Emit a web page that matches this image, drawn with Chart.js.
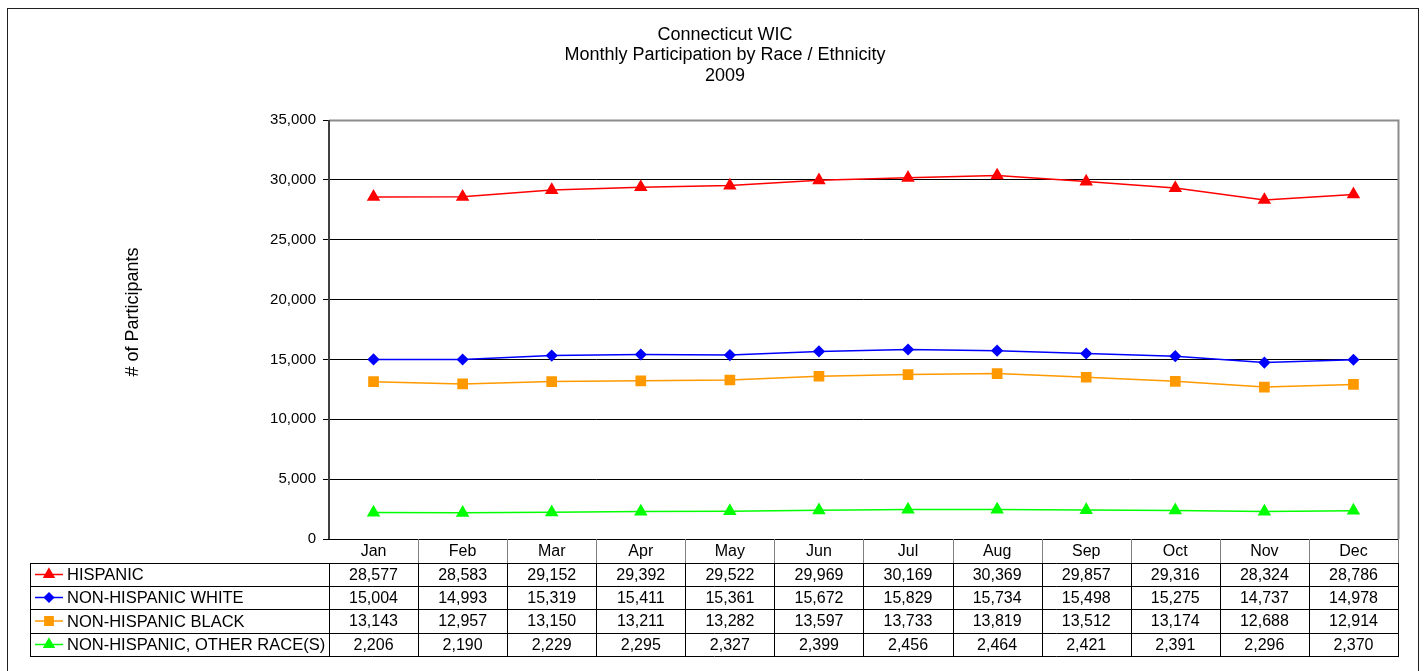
<!DOCTYPE html>
<html lang="en">
<head>
    <meta charset="UTF-8">
    <title>Connecticut WIC 2009</title>
    <script src="https://cdn.jsdelivr.net/npm/chart.js"></script>
    <style>
        body { margin: 0; background: #fff; }
        #wrap { width: 1424px; height: 671px; position: relative; }
    </style>
</head>
<body>
    <div id="wrap"><canvas id="myChart" width="1424" height="671"></canvas></div>

    <script>
        // data
        const months = ['Jan', 'Feb', 'Mar', 'Apr', 'May', 'Jun', 'Jul', 'Aug', 'Sep', 'Oct', 'Nov', 'Dec'];
        const hispanic = [28577, 28583, 29152, 29392, 29522, 29969, 30169, 30369, 29857, 29316, 28324, 28786];
        const nhWhite = [15004, 14993, 15319, 15411, 15361, 15672, 15829, 15734, 15498, 15275, 14737, 14978];
        const nhBlack = [13143, 12957, 13150, 13211, 13282, 13597, 13733, 13819, 13512, 13174, 12688, 12914];
        const nhOther = [2206, 2190, 2229, 2295, 2327, 2399, 2456, 2464, 2421, 2391, 2296, 2370];
        const seriesNames = ['HISPANIC', 'NON-HISPANIC WHITE', 'NON-HISPANIC BLACK', 'NON-HISPANIC, OTHER RACE(S)'];
        const yTitle = '# of Participants';

        const FONT = 'Arial, "Liberation Sans", sans-serif';
        const fmt = v => v.toLocaleString('en-US');

        function series(label, data, color, style, radius) {
            return {
                label: label,
                data: data,
                borderColor: color,
                backgroundColor: color,
                borderWidth: 1.5,
                pointStyle: style,
                pointRadius: radius,
                pointHoverRadius: radius,
                tension: 0
            };
        }

        // draws the outer frame, plot border, y title and the data table under the plot
        const tablePlugin = {
            id: 'dataTable',
            afterDraw(chart) {
                const ctx = chart.ctx;
                const area = chart.chartArea;
                const x = chart.scales.x;
                const sets = chart.data.datasets;
                const half = (x.getPixelForValue(1) - x.getPixelForValue(0)) / 2;
                const legendLeft = 30;
                const top = Math.round(area.bottom);
                const rows = [top, top + 24, top + 47, top + 70, top + 94, top + 117];

                ctx.save();
                // outer frame
                ctx.strokeStyle = '#202020';
                ctx.lineWidth = 1;
                ctx.strokeRect(7.5, 8.5, 1411, 700);

                // y axis title
                ctx.save();
                ctx.translate(133, 312);
                ctx.rotate(-Math.PI / 2);
                ctx.font = '18px ' + FONT;
                ctx.fillStyle = '#000';
                ctx.textAlign = 'center';
                ctx.textBaseline = 'middle';
                ctx.fillText(yTitle, 0, 0);
                ctx.restore();

                // plot border
                ctx.strokeStyle = '#8c8c8c';
                ctx.lineWidth = 2;
                ctx.beginPath();
                ctx.moveTo(area.left, area.top + 0.5);
                ctx.lineTo(area.right + 0.5, area.top + 0.5);
                ctx.lineTo(area.right + 0.5, area.bottom);
                ctx.stroke();
                ctx.strokeStyle = '#404040';
                ctx.beginPath();
                ctx.moveTo(area.left, area.top);
                ctx.lineTo(area.left, area.bottom);
                ctx.stroke();

                // header row
                ctx.lineWidth = 1;
                ctx.strokeStyle = '#808080';
                ctx.beginPath();
                months.forEach((m, i) => {
                    const px = Math.round(x.getPixelForValue(i) + half) + 0.5;
                    ctx.moveTo(px, rows[0]);
                    ctx.lineTo(px, rows[1]);
                });
                ctx.stroke();

                ctx.fillStyle = '#000';
                ctx.font = '16px ' + FONT;
                ctx.textAlign = 'center';
                ctx.textBaseline = 'middle';
                months.forEach((m, i) => {
                    ctx.fillText(m, x.getPixelForValue(i), (rows[0] + rows[1]) / 2 + 1);
                });

                // data rows
                ctx.strokeStyle = '#000';
                ctx.beginPath();
                for (let r = 1; r < rows.length; r++) {
                    ctx.moveTo(legendLeft, rows[r] + 0.5);
                    ctx.lineTo(area.right + 1, rows[r] + 0.5);
                }
                ctx.moveTo(legendLeft + 0.5, rows[1]);
                ctx.lineTo(legendLeft + 0.5, rows[5]);
                ctx.moveTo(Math.round(area.left) + 0.5, rows[1]);
                ctx.lineTo(Math.round(area.left) + 0.5, rows[5]);
                months.forEach((m, i) => {
                    const px = Math.round(x.getPixelForValue(i) + half) + 0.5;
                    ctx.moveTo(px, rows[1]);
                    ctx.lineTo(px, rows[5]);
                });
                ctx.stroke();

                sets.forEach((ds, s) => {
                    const cy = (rows[s + 1] + rows[s + 2]) / 2 + 1;
                    ctx.font = '16px ' + FONT;
                    ctx.textAlign = 'center';
                    ctx.fillStyle = '#000';
                    ds.data.forEach((v, i) => {
                        ctx.fillText(fmt(v), x.getPixelForValue(i), cy);
                    });
                    // legend key
                    ctx.strokeStyle = ds.borderColor;
                    ctx.lineWidth = 1.5;
                    ctx.beginPath();
                    ctx.moveTo(35, cy - 1);
                    ctx.lineTo(63, cy - 1);
                    ctx.stroke();
                    ctx.fillStyle = ds.backgroundColor;
                    Chart.helpers.drawPoint(ctx, {
                        pointStyle: ds.pointStyle, radius: ds.pointRadius * 0.9, rotation: 0, borderWidth: 1
                    }, 49, cy - 1);
                    ctx.fillStyle = '#000';
                    ctx.textAlign = 'left';
                    ctx.font = '16.5px ' + FONT;
                    ctx.fillText(seriesNames[s], 67, cy);
                });
                ctx.restore();
            }
        };

        const data = {
            labels: months,
            datasets: [
                series(seriesNames[0], hispanic, '#FF0000', 'triangle', 6.3),
                series(seriesNames[1], nhWhite, '#0000FF', 'rectRot', 5),
                series(seriesNames[2], nhBlack, '#FF9900', 'rect', 6.5),
                series(seriesNames[3], nhOther, '#00FF00', 'triangle', 6.3)
            ]
        };

        const config = {
            type: 'line',
            data: data,
            plugins: [tablePlugin],
            options: {
                responsive: false,
                animation: false,
                devicePixelRatio: 1,
                layout: { padding: { left: 52, right: 26, top: 0, bottom: 132 } },
                plugins: {
                    legend: { display: false },
                    tooltip: { enabled: false },
                    title: {
                        display: true,
                        text: ['Connecticut WIC', 'Monthly Participation by Race / Ethnicity', '2009'],
                        color: '#000',
                        font: { family: FONT, size: 18, weight: 'normal', lineHeight: 1.13 },
                        padding: { top: 25, bottom: 34 }
                    }
                },
                scales: {
                    x: {
                        display: false,
                        offset: true
                    },
                    y: {
                        min: 0,
                        max: 35000,
                        afterFit(scale) { scale.width = 277; },
                        border: { display: false },
                        grid: {
                            color: ctx => ctx.tick && ctx.tick.value === 35000 ? '#808080' : '#000',
                            lineWidth: 1,
                            tickLength: 6,
                            tickColor: '#000'
                        },
                        ticks: {
                            stepSize: 5000,
                            padding: 7,
                            color: '#000',
                            font: { family: FONT, size: 15 },
                            callback: v => fmt(v)
                        }
                    }
                }
            }
        };

        const myChart = new Chart(document.getElementById('myChart'), config);
    </script>
</body>
</html>
